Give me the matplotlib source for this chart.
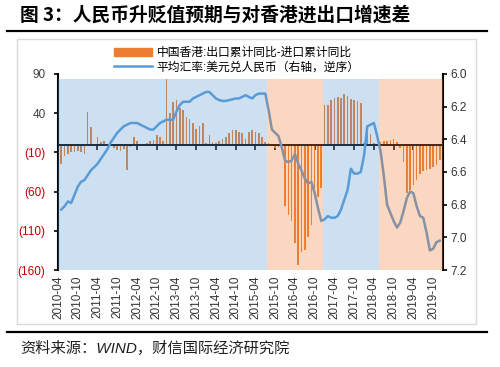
import numpy as np
import pandas as pd
import matplotlib
matplotlib.use('Agg')
import matplotlib.pyplot as plt
from matplotlib.patches import Patch, Rectangle
from matplotlib.lines import Line2D

plt.rcParams['font.family'] = ['Liberation Sans', 'Noto Sans CJK SC', 'DejaVu Sans']

# --- data ---
axis_start = pd.Period('2010-04', 'M')
months = pd.period_range('2010-05', '2019-12', freq='M')

# 中国香港: 出口累计同比 - 进口累计同比 (%)
hk_diff = [-25, -15, -12, -10, -10, -8, -10, -12, 42, 22,
           0, 9, 3, 4, 1, 0, -5, -7, -8, -6,
           -33, -3, 10, 4, 1, 0, 2, 4, 6, 12,
           9, 4, 83, 40, 54, 57, 47, 44, 35, 32,
           27, 20, 24, 27, 2, 12, 3, 2, 5, 7,
           10, 15, 18, 19, 16, 15, 7, 16, 18, 16,
           15, 9, 3, 2, -2, -5, -3, -1, -78, -90,
           -97, -126, -153, -137, -134, -118, -102, -64, -67, -55,
           50, 50, 57, 60, 61, 60, 64, 62, 58, 57,
           55, 53, 2, 15, 14, 2, 1, 3, 4, 5,
           6, 7, 3, -5, -22, -62, -58, -52, -45, -38,
           -34, -33, -31, -29, -26, -20]

# 平均汇率: 美元兑人民币
usdcny = [6.83, 6.81, 6.78, 6.79, 6.74, 6.69, 6.66, 6.65, 6.62, 6.59,
          6.57, 6.55, 6.52, 6.49, 6.46, 6.42, 6.39, 6.36, 6.34, 6.32,
          6.31, 6.30, 6.30, 6.30, 6.31, 6.32, 6.33, 6.34, 6.34, 6.32,
          6.30, 6.29, 6.28, 6.28, 6.28, 6.23, 6.19, 6.17, 6.17, 6.17,
          6.15, 6.14, 6.13, 6.12, 6.11, 6.11, 6.13, 6.15, 6.16, 6.165,
          6.165, 6.16, 6.155, 6.15, 6.15, 6.14, 6.13, 6.14, 6.15, 6.13,
          6.12, 6.12, 6.12, 6.22, 6.34, 6.36, 6.38, 6.45, 6.53, 6.54,
          6.53, 6.49, 6.55, 6.59, 6.64, 6.67, 6.66, 6.73, 6.82, 6.90,
          6.89, 6.87, 6.88, 6.88, 6.87, 6.83, 6.77, 6.71, 6.58, 6.61,
          6.61, 6.60, 6.50, 6.32, 6.31, 6.30, 6.38, 6.47, 6.62, 6.80,
          6.85, 6.90, 6.94, 6.91, 6.84, 6.76, 6.72, 6.73, 6.81, 6.87,
          6.88, 6.97, 7.08, 7.07, 7.03, 7.02]

# shaded phases: (first month, last month, colour)
phases = [('2010-04', '2015-07', 'blue'),
          ('2015-08', '2016-12', 'orange'),
          ('2017-01', '2018-05', 'blue'),
          ('2018-06', '2020-01', 'orange')]

left_ticks = [90, 40, -10, -60, -110, -160]
right_ticks = [6.0, 6.2, 6.4, 6.6, 6.8, 7.0, 7.2]

ORANGE = '#ED7D31'
BLUE = '#5B9BD5'
RED = '#C00000'


def pos(m):
    return (pd.Period(m, 'M') - axis_start).n


x = np.array([pos(m) for m in months])
tick_months = pd.period_range('2010-04', '2019-10', freq='M')[::6]
tick_pos = [pos(m) for m in tick_months]
tick_lab = [m.strftime('%Y-%m') for m in tick_months]

fig = plt.figure(figsize=(5, 3.67), dpi=100)

# frame decorations
fig.add_artist(Rectangle((0.034, 0.1172), 0.918, 0.7765, fill=False,
                         edgecolor='#D9D9D9', lw=1, transform=fig.transFigure))
fig.add_artist(Line2D([0.014, 0.974], [0.9155, 0.9155], color='black', lw=1.6))
fig.add_artist(Line2D([0.014, 0.974], [0.0954, 0.0954], color='black', lw=1.6))
fig.text(0.04, 0.959, '图 3：人民币升贬值预期与对香港进出口增速差', fontsize=13.5,
         fontweight='bold', va='center', family=['Noto Sans CJK SC'])
fig.text(0.04, 0.052, '资料来源：WIND，财信国际经济研究院', fontsize=11,
         style='italic', va='center', color='#202020')

ax = fig.add_axes([0.116, 0.2643, 0.77, 0.5341])
ax.bar(x, hk_diff, width=0.5, color=ORANGE, zorder=2)
ax.set_xlim(0, 117)
ax.set_ylim(-160, 90)
ax.spines['bottom'].set_position(('data', 0))
ax.spines['bottom'].set_linewidth(1.4)
ax.spines['left'].set_linewidth(1.5)
ax.spines['top'].set_visible(False)
ax.spines['right'].set_visible(False)
ax.set_xticks(tick_pos)
ax.tick_params(axis='x', length=3.5, width=1.2, direction='out', labelbottom=False)
ax.set_yticks(left_ticks, [f'({-v})' if v < 0 else f'{v}' for v in left_ticks])
ax.tick_params(axis='y', length=3, width=1.2, labelsize=8.5, pad=6)
for lab, v in zip(ax.get_yticklabels(), left_ticks):
    lab.set_color(RED if v < 0 else '#404040')

sec = ax.secondary_xaxis('bottom')
sec.set_xticks(tick_pos, labels=tick_lab)
sec.tick_params(length=0, labelsize=8.5, rotation=90, pad=4, colors='#333333')
sec.spines['bottom'].set_visible(False)

ax2 = ax.twinx()
ax2.plot(x, usdcny, color=BLUE, lw=1.8, zorder=2)
ax2.set_ylim(7.2, 6.0)
ax2.set_yticks(right_ticks, [f'{v:.1f}' for v in right_ticks])
ax2.tick_params(axis='y', length=3, width=1.2, labelsize=8.5, pad=2, labelcolor='#333333')
for s in ['top', 'bottom', 'left']:
    ax2.spines[s].set_visible(False)
ax2.spines['right'].set_linewidth(1.5)

shade = {'blue': BLUE, 'orange': ORANGE}
for a, b, c in phases:
    ax2.axvspan(pos(a) - 0.5, pos(b) + 0.5, ymin=0, ymax=0.974,
                color=shade[c], alpha=0.3, lw=0, zorder=3)

handles = [Patch(color=ORANGE), Line2D([], [], color=BLUE, lw=1.8)]
labels = ['中国香港:出口累计同比-进口累计同比', '平均汇率:美元兑人民币（右轴，逆序）']
fig.legend(handles, labels, loc='upper left', bbox_to_anchor=(0.228, 0.872),
           frameon=False, fontsize=8.5, handlelength=3.2, handleheight=0.6,
           handletextpad=0.4, labelspacing=0.2, borderpad=0, borderaxespad=0)

fig.savefig('out.png', dpi=100)
